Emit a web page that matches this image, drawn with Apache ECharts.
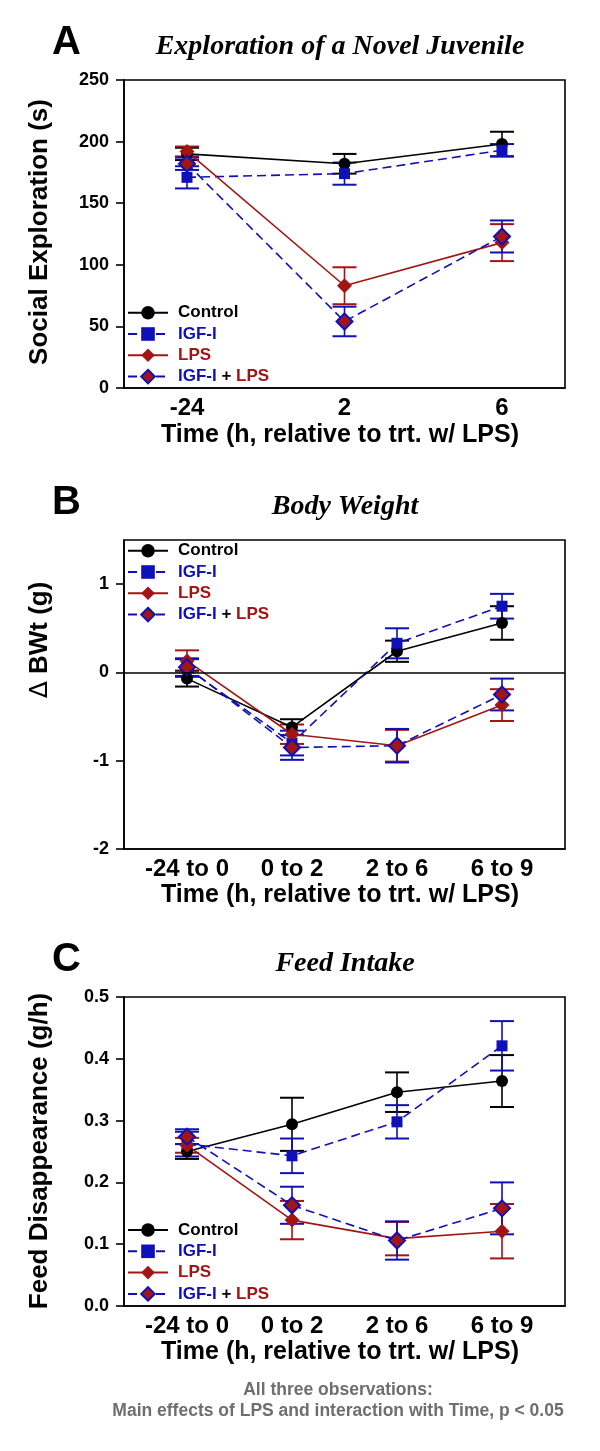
<!DOCTYPE html>
<html><head><meta charset="utf-8">
<script src="https://cdn.jsdelivr.net/npm/echarts@6/dist/echarts.min.js"></script>
<style>html,body{margin:0;padding:0;background:#fff}#c{width:600px;height:1451px}</style>
</head><body><div id="c"></div>
<script>
// ---------- data ----------
const timesA = ['-24', '2', '6'];
const timesBC = ['-24 to 0', '0 to 2', '2 to 6', '6 to 9'];
const groups = ['Control', 'IGF-I', 'LPS', 'IGF-I + LPS'];
const yTicksA = [0, 50, 100, 150, 200, 250];
const yTicksB = [-2, -1, 0, 1];
const yTicksC = [0, 0.1, 0.2, 0.3, 0.4, 0.5];

// A: social exploration (s)
const exploreControl = [190, 182, 198];
const exploreControlSE = [5, 8, 10];
const exploreIGF = [171, 174, 193];
const exploreIGFSE = [9, 9, 5];
const exploreLPS = [192, 83, 118];
const exploreLPSSE = [4, 15, 15];
const exploreBoth = [182, 54, 123];
const exploreBothSE = [5, 12, 13];

// B: change in body weight (g)
const bwControl = [-0.07, -0.62, 0.24, 0.56];
const bwControlSE = [0.09, 0.09, 0.12, 0.19];
const bwIGF = [0.05, -0.80, 0.33, 0.75];
const bwIGFSE = [0.10, 0.14, 0.17, 0.14];
const bwLPS = [0.13, -0.70, -0.83, -0.37];
const bwLPSSE = [0.12, 0.11, 0.18, 0.18];
const bwBoth = [0.06, -0.85, -0.83, -0.25];
const bwBothSE = [0.10, 0.14, 0.19, 0.18];

// C: feed disappearance (g/h)
const feedControl = [0.250, 0.294, 0.346, 0.364];
const feedControlSE = [0.012, 0.043, 0.032, 0.042];
const feedIGF = [0.262, 0.243, 0.298, 0.421];
const feedIGFSE = [0.020, 0.028, 0.027, 0.040];
const feedLPS = [0.260, 0.139, 0.109, 0.121];
const feedLPSSE = [0.012, 0.031, 0.027, 0.044];
const feedBoth = [0.274, 0.163, 0.106, 0.158];
const feedBothSE = [0.012, 0.030, 0.031, 0.042];

// ---------- styles ----------
const BLACK = '#000000', BLUE = '#1010b8', RED = '#a31515';
const SANS = '"Liberation Sans", Arial, sans-serif';
const SERIF = '"Liberation Serif", "Times New Roman", serif';
const DASH = [9, 5];
const styles = [
  {name: groups[0], line: BLACK, fill: BLACK, border: BLACK, bw: 0, symbol: 'circle', size: 12, type: 'solid'},
  {name: groups[1], line: BLUE, fill: BLUE, border: BLUE, bw: 0, symbol: 'rect', size: 11, type: DASH},
  {name: groups[2], line: RED, fill: RED, border: RED, bw: 0, symbol: 'diamond', size: 15, type: 'solid'},
  {name: groups[3], line: BLUE, fill: RED, border: BLUE, bw: 2, symbol: 'diamond', size: 16, type: DASH}
];

const grids = [
  {left: 124, top: 80, width: 441, height: 308},
  {left: 124, top: 540, width: 441, height: 309},
  {left: 124, top: 997, width: 441, height: 309}
];

function errSeries(gi, means, ses, color) {
  return {
    type: 'custom', xAxisIndex: gi, yAxisIndex: gi, silent: true, z: 2,
    encode: {x: 0, y: [1, 2]},
    data: means.map((v, i) => [i, v - ses[i], v + ses[i]]),
    renderItem: function (params, api) {
      const x = api.value(0);
      const lo = api.coord([x, api.value(1)]);
      const hi = api.coord([x, api.value(2)]);
      const w = 12;
      return {type: 'group', children: [
        {type: 'line', shape: {x1: lo[0], y1: lo[1], x2: hi[0], y2: hi[1]}, style: {stroke: color, lineWidth: 1.6}},
        {type: 'line', shape: {x1: lo[0] - w, y1: lo[1], x2: lo[0] + w, y2: lo[1]}, style: {stroke: color, lineWidth: 2}},
        {type: 'line', shape: {x1: hi[0] - w, y1: hi[1], x2: hi[0] + w, y2: hi[1]}, style: {stroke: color, lineWidth: 2}}
      ]};
    }
  };
}
function lineSeries(gi, means, st, extra) {
  return Object.assign({
    type: 'line', name: st.name, xAxisIndex: gi, yAxisIndex: gi, z: 3,
    data: means.map((v, i) => [i, v]),
    symbol: st.symbol, symbolSize: st.size, showAllSymbol: true,
    lineStyle: {color: st.line, width: 1.6, type: st.type},
    itemStyle: {color: st.fill, borderColor: st.border, borderWidth: st.bw},
    emphasis: {disabled: true}, animation: false
  }, extra || {});
}

const panels = [
  {means: [exploreControl, exploreIGF, exploreLPS, exploreBoth], ses: [exploreControlSE, exploreIGFSE, exploreLPSSE, exploreBothSE]},
  {means: [bwControl, bwIGF, bwLPS, bwBoth], ses: [bwControlSE, bwIGFSE, bwLPSSE, bwBothSE]},
  {means: [feedControl, feedIGF, feedLPS, feedBoth], ses: [feedControlSE, feedIGFSE, feedLPSSE, feedBothSE]}
];

const series = [];
panels.forEach((p, gi) => {
  for (let k = 0; k < 4; k++) {
    series.push(errSeries(gi, p.means[k], p.ses[k], styles[k].line));
    let extra = null;
    if (gi === 1 && k === 0) {
      extra = {markLine: {silent: true, symbol: 'none', animation: false,
        lineStyle: {color: BLACK, width: 1.6, type: 'solid'}, label: {show: false},
        data: [{yAxis: 0}]}};
    }
    series.push(lineSeries(gi, p.means[k], styles[k], extra));
  }
});

function xAxis(gi, labels, min, max) {
  const vals = labels.map((_, i) => i);
  return {
    type: 'value', gridIndex: gi, min: min, max: max,
    axisLine: {onZero: false, lineStyle: {color: BLACK, width: 1.6}},
    axisTick: {show: false},
    splitLine: {show: false},
    axisLabel: {customValues: vals, formatter: v => labels[Math.round(v)], margin: 8,
      color: BLACK, fontFamily: SANS, fontWeight: 'bold', fontSize: 24}
  };
}
function yAxis(gi, ticks, min, max, fmt) {
  return {
    type: 'value', gridIndex: gi, min: min, max: max,
    axisLine: {show: true, onZero: false, lineStyle: {color: BLACK, width: 1.6}},
    axisTick: {show: true, customValues: ticks, length: 8, lineStyle: {color: BLACK, width: 1.6}},
    splitLine: {show: false},
    axisLabel: {customValues: ticks, formatter: fmt, margin: 15,
      color: BLACK, fontFamily: SANS, fontWeight: 'bold', fontSize: 18}
  };
}

const legendRich = {
  k: {color: BLACK, fontFamily: SANS, fontWeight: 'bold', fontSize: 17, lineHeight: 17},
  b: {color: BLUE, fontFamily: SANS, fontWeight: 'bold', fontSize: 17, lineHeight: 17},
  r: {color: RED, fontFamily: SANS, fontWeight: 'bold', fontSize: 17, lineHeight: 17}
};
function legendFmt(name) {
  if (name === 'Control') return '{k|Control}';
  if (name === 'IGF-I') return '{b|IGF-I}';
  if (name === 'LPS') return '{r|LPS}';
  return '{b|IGF-I} {k|+} {r|LPS}';
}
function legend(firstCenter) {
  return {
    data: groups, orient: 'vertical', left: 127, top: firstCenter - 8.5, padding: 0,
    itemWidth: 40, itemHeight: 17, itemGap: 4.3, selectedMode: false,
    formatter: legendFmt,
    textStyle: {fontSize: 17, lineHeight: 17, padding: [0, 0, 0, 5], rich: legendRich}
  };
}

function txt(x, y, text, font, opts) {
  return Object.assign({type: 'text', x: x, y: y, silent: true,
    style: Object.assign({text: text, font: font, fill: BLACK, align: 'center', verticalAlign: 'middle'}, (opts && opts.style) || {})},
    (opts && opts.el) || {});
}
const letterFont = 'bold 40px ' + SANS;
const titleFont = 'italic bold 28px ' + SERIF;
const nameFont = 'bold 25px ' + SANS;
const yNameFont = 'bold 26px ' + SANS;
const noteFont = 'bold 17.5px ' + SANS;

const graphics = [
  txt(52, 43, 'A', letterFont, {style: {align: 'left'}}),
  txt(340, 47, 'Exploration of a Novel Juvenile', titleFont),
  txt(340, 435, 'Time (h, relative to trt. w/ LPS)', nameFont),
  txt(40, 232, 'Social Exploration (s)', yNameFont, {el: {rotation: Math.PI / 2}}),

  txt(52, 503, 'B', letterFont, {style: {align: 'left'}}),
  txt(345, 507, 'Body Weight', titleFont),
  txt(340, 895, 'Time (h, relative to trt. w/ LPS)', nameFont),
  {type: 'text', x: 40, y: 640, rotation: Math.PI / 2, silent: true,
    style: {text: '{d|Δ} BWt (g)', font: yNameFont, fill: BLACK, align: 'center', verticalAlign: 'middle',
      rich: {d: {font: 'normal 25px "DejaVu Sans", sans-serif', fill: BLACK}}}},

  txt(52, 960, 'C', letterFont, {style: {align: 'left'}}),
  txt(345, 964, 'Feed Intake', titleFont),
  txt(340, 1352, 'Time (h, relative to trt. w/ LPS)', nameFont),
  txt(40, 1151, 'Feed Disappearance (g/h)', yNameFont, {el: {rotation: Math.PI / 2}}),

  txt(338, 1390, 'All three observations:', noteFont, {style: {fill: '#6e6e6e'}}),
  txt(338, 1411, 'Main effects of LPS and interaction with Time, p < 0.05', noteFont, {style: {fill: '#6e6e6e'}})
];

const chart = echarts.init(document.getElementById('c'), null, {renderer: 'canvas'});
chart.setOption({
  animation: false,
  backgroundColor: '#ffffff',
  grid: grids.map(g => Object.assign({show: true, borderColor: BLACK, borderWidth: 1.6, backgroundColor: 'transparent', containLabel: false}, g)),
  xAxis: [xAxis(0, timesA, -0.4, 2.4), xAxis(1, timesBC, -0.6, 3.6), xAxis(2, timesBC, -0.6, 3.6)],
  yAxis: [
    yAxis(0, yTicksA, 0, 250, v => String(v)),
    yAxis(1, yTicksB, -2, 1.5, v => String(v)),
    yAxis(2, yTicksC, 0, 0.5, v => v.toFixed(1))
  ],
  legend: [legend(312.7), legend(550.7), legend(1230)],
  series: series,
  graphic: graphics
});
</script>
</body></html>
